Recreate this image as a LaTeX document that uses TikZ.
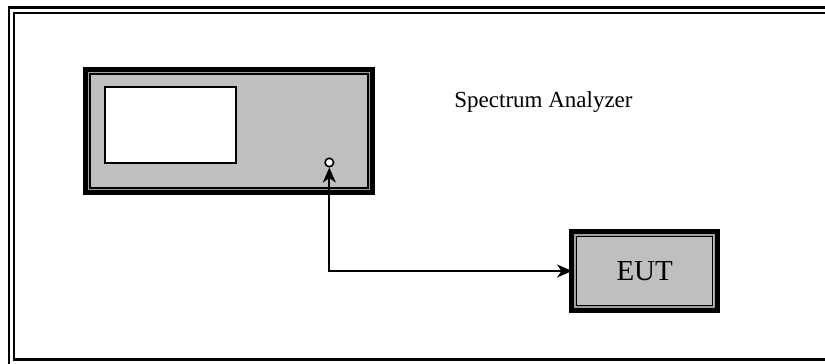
\documentclass[tikz,border=0pt]{standalone}
\usepackage{fontspec}
\setmainfont{Liberation Serif}
\usetikzlibrary{positioning}
\usetikzlibrary{arrows.meta}
\definecolor{boxgray}{rgb}{0.75, 0.75, 0.75}
\definecolor{litegray}{rgb}{0.62, 0.62, 0.62}
\tikzset{unit/.style = {draw, fill=boxgray, line width=5pt, outer sep=0,
                        inner sep=0, rectangle}}
\tikzset{hilite/.style = {draw=litegray, line width=1.3pt}}
\tikzset{rim/.style = {draw=black, line width=1.4pt}}
\tikzset{frame/.style = {draw=black, line width=2.2pt}}
\tikzset{lead/.style = {line width=1.9pt,
                        {Stealth[length=15pt, width=13pt, inset=4.5pt]}-{Stealth[length=15pt, width=13pt, inset=4.5pt]}}}

\begin{document}
\begin{tikzpicture}[x=1pt, y=-1pt]

      \useasboundingbox (0,0) rectangle (825,364);
      \clip (0,0) rectangle (825,364);

      % outer double frame
      \draw[frame] (9,7.5) rectangle (845,380);
      \draw[frame] (14,13) rectangle (840,359.5);

      \node[unit, minimum width=287pt, minimum height=123pt] (sa) at (229,131) {};
      \node[unit, line width=5.5pt, minimum width=145.3pt, minimum height=78pt,
            font=\fontsize{29}{30}\selectfont] (eut) at (644.7,271) {EUT};

      \foreach \n in {sa,eut} {
        \draw[hilite] ([shift={(3,3)}]\n.north west) rectangle ([shift={(-3,-3)}]\n.south east);
        \draw[rim] ([shift={(4.6,4.6)}]\n.north west) rectangle ([shift={(-4.6,-4.6)}]\n.south east);
      }

      \node[draw, fill=white, line width=1.7pt, minimum width=131pt,
            minimum height=76pt, outer sep=0] (screen) at (170.5,125) {};
      \node[draw, fill=white, circle, line width=1.6pt, inner sep=0,
            minimum size=8.5pt] (port) at (329.3,162.5) {};

      \node[anchor=base, font=\fontsize{23}{24}\selectfont] (salabel) at (543.5,107) {Spectrum Analyzer};

      \draw[lead] (port.south) |- (eut.west);

    \end{tikzpicture}
\end{document}
